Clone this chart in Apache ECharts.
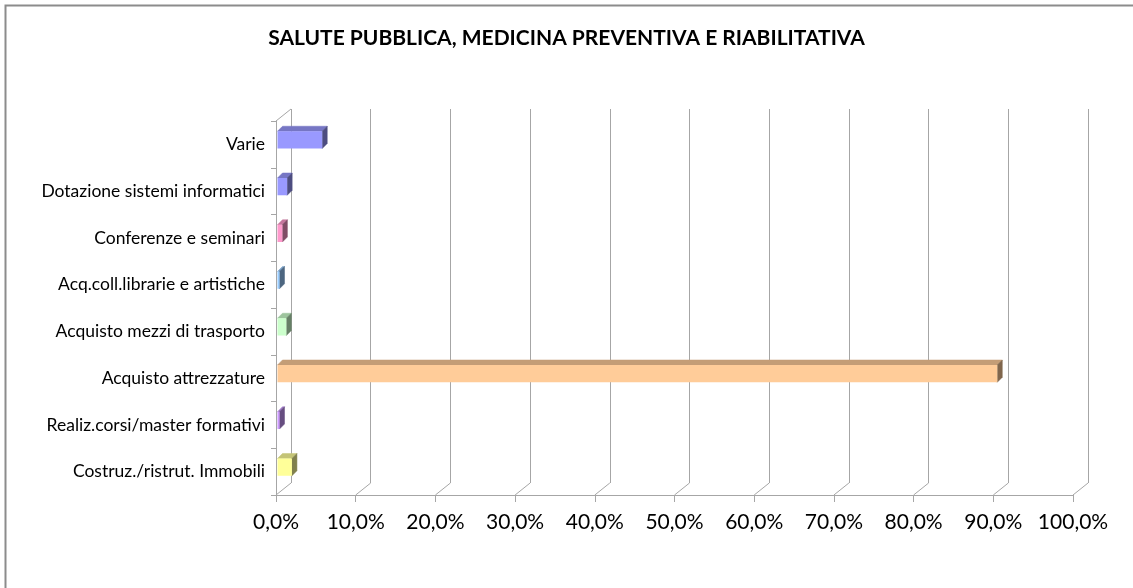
<!DOCTYPE html>
<html>
<head>
<meta charset="utf-8">
<script src="https://cdn.jsdelivr.net/npm/echarts@6/dist/echarts.min.js"></script>
<style>
  html, body { margin: 0; padding: 0; background: #ffffff; }
  #chart { width: 1133px; height: 588px; }
</style>
</head>
<body>
<div id="chart"></div>
<script>
// categories from bottom to top (category axis draws the first one at the bottom)
const categories = [
  'Costruz./ristrut. Immobili',
  'Realiz.corsi/master formativi',
  'Acquisto attrezzature',
  'Acquisto mezzi di trasporto',
  'Acq.coll.librarie e artistiche',
  'Conferenze e seminari',
  'Dotazione sistemi informatici',
  'Varie'
]
// share of total, in %
const shares = [2.0, 0.4, 90.5, 1.3, 0.3, 0.8, 1.4, 5.8]
// front colour of each bar
const barColors = ['#ffff99', '#cc99ff', '#ffcc99', '#ccffcc', '#99ccff', '#ff99cc', '#9999ff', '#9999ff']
const tickValues = [0, 10, 20, 30, 40, 50, 60, 70, 80, 90, 100]

const font = 'Lato, "Open Sans", sans-serif'
const gridColor = '#a6a6a6'
// depth offset between front axis and back wall
const DX = 15, DY = -12

// darken a hex colour by factor f (0..1)
function shade(hex, f) {
  const n = parseInt(hex.slice(1), 16)
  const r = Math.round(((n >> 16) & 255) * f)
  const g = Math.round(((n >> 8) & 255) * f)
  const b = Math.round((n & 255) * f)
  return 'rgb(' + r + ',' + g + ',' + b + ')'
}

const chart = echarts.init(document.getElementById('chart'))

const option = {
  backgroundColor: '#ffffff',
  animation: false,
  title: {
    text: 'SALUTE PUBBLICA, MEDICINA PREVENTIVA E RIABILITATIVA',
    left: 'center',
    top: 23,
    textStyle: { fontFamily: font, fontSize: 21, fontWeight: 'bold', color: '#000' }
  },
  graphic: [
    { type: 'polyline', shape: { points: [[5.5, 600], [5.5, 5.5], [1140, 5.5]] },
      style: { stroke: '#8c8c8c', lineWidth: 2, fill: null } }
  ],
  grid: [
    // front plane (axes, labels, bars)
    { left: 276, right: 60, top: 121, bottom: 93 },
    // back wall (gridlines)
    { left: 276 + DX, right: 60 - DX, top: 121 + DY, bottom: 93 - DY }
  ],
  xAxis: [
    {
      gridIndex: 0, type: 'value', min: 0, max: 100, interval: 10,
      axisLine: { show: true, lineStyle: { color: gridColor } },
      axisTick: { show: true, length: 7, lineStyle: { color: gridColor } },
      splitLine: { show: false },
      axisLabel: {
        margin: 17, fontFamily: font, fontSize: 21, color: '#000',
        formatter: v => v.toFixed(1).replace('.', ',') + '%'
      }
    },
    {
      gridIndex: 1, type: 'value', min: 0, max: 100, interval: 10,
      axisLine: { show: false }, axisTick: { show: false }, axisLabel: { show: false },
      splitLine: { show: true, showMinLine: true, showMaxLine: true, lineStyle: { color: gridColor, width: 1 } }
    }
  ],
  yAxis: [
    {
      gridIndex: 0, type: 'category', data: categories,
      axisLine: { show: true, lineStyle: { color: gridColor } },
      axisTick: { show: true, length: 5, lineStyle: { color: gridColor } },
      axisLabel: { margin: 11, fontFamily: font, fontSize: 17.5, color: '#000' },
      splitLine: { show: false }
    },
    {
      gridIndex: 1, type: 'category', data: categories, show: false
    }
  ],
  series: [
    {
      // diagonal edges joining the front axes with the back wall
      type: 'custom',
      xAxisIndex: 0, yAxisIndex: 0,
      silent: true,
      data: tickValues.map(v => [v, 0]),
      renderItem: function (params, api) {
        const cs = params.coordSys
        const p = api.coord([api.value(0), 0])
        const bottom = cs.y + cs.height
        const children = [{
          type: 'line',
          shape: { x1: p[0], y1: bottom, x2: p[0] + DX, y2: bottom + DY },
          style: { stroke: gridColor, lineWidth: 1 }
        }]
        if (params.dataIndex === 0) {
          children.push({
            type: 'line',
            shape: { x1: p[0], y1: cs.y, x2: p[0] + DX, y2: cs.y + DY },
            style: { stroke: gridColor, lineWidth: 1 }
          })
        }
        return { type: 'group', children: children }
      },
      z: 1
    },
    {
      // 3D-looking bars
      type: 'custom',
      xAxisIndex: 0, yAxisIndex: 0,
      data: shares.map((v, i) => [v, i]),
      renderItem: function (params, api) {
        const idx = api.value(1)
        const start = api.coord([0, idx])
        const end = api.coord([api.value(0), idx])
        const band = api.size([0, 1])[1]
        const h = band * 0.37
        const dx = 5, dy = -5
        const x0 = start[0] + 1.5
        const x1 = Math.max(end[0], x0 + 2)
        const yc = start[1] - 4.5
        const y0 = yc - h / 2, y1 = yc + h / 2
        const c = barColors[params.dataIndex]
        const top = shade(c, 0.77)
        const side = shade(c, 0.5)
        return {
          type: 'group',
          children: [
            { type: 'polygon', shape: { points: [[x0, y0], [x0 + dx, y0 + dy], [x1 + dx, y0 + dy], [x1, y0]] },
              style: { fill: top, stroke: top, lineWidth: 0.5 } },
            { type: 'polygon', shape: { points: [[x1, y0], [x1 + dx, y0 + dy], [x1 + dx, y1 + dy], [x1, y1]] },
              style: { fill: side, stroke: side, lineWidth: 0.5 } },
            { type: 'rect', shape: { x: x0, y: y0, width: x1 - x0, height: y1 - y0 },
              style: { fill: c } }
          ]
        }
      },
      z: 3
    }
  ]
}

chart.setOption(option)
</script>
</body>
</html>
